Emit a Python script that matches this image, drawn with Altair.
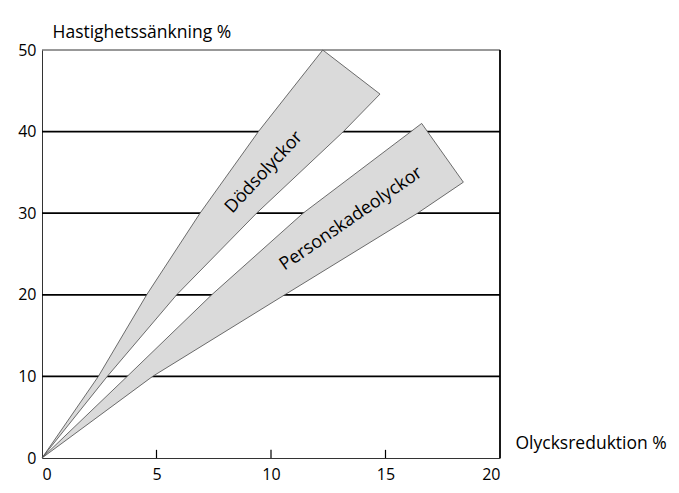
import altair as alt
import pandas as pd

# Axis values
x_ticks = [0, 5, 10, 15, 20]
y_ticks = [0, 10, 20, 30, 40, 50]
grid_y = [10, 20, 30, 40]
top_y = [50]
border_x = [20]
inner_ticks = [5, 10, 15]

# Dödsolyckor wedge (left and right edge, per y level)
dods_y = [0, 10, 20, 30, 40, 44.6, 50]
dods_left = [0, 2.46, 4.57, 6.90, 9.45, 10.74, 12.26]
dods_right = [0, 2.85, 5.88, 9.37, 13.16, 14.76, 12.26]

# Personskadeolyckor wedge
pers_y = [0, 10, 20, 30, 33.8, 41.0]
pers_left = [0, 3.72, 7.41, 11.4, 13.19, 16.58]
pers_right = [0, 4.83, 10.6, 16.4, 18.4, 16.58]

# Labels
label_text = ["Dödsolyckor", "Personskadeolyckor"]
label_x = [9.7, 13.5]
label_y = [35.0, 29.3]
label_angle = [313, 325.5]

FONT = "Open Sans"
xs = alt.Scale(domain=[0, 20], nice=False, zero=True)
ys = alt.Scale(domain=[0, 50], nice=False, zero=True)

x_axis = alt.Axis(values=x_ticks, ticks=False, grid=False, labelPadding=8,
                  labelFontSize=16, labelFont=FONT, labelColor="black",
                  domainColor="#333", domainWidth=1,
                  title="Olycksreduktion %", titleFont=FONT, titleFontSize=17.5,
                  titleFontWeight="normal", titleColor="black", titleAngle=0,
                  titleAlign="left", titleBaseline="alphabetic",
                  titleX=473, titleY=-10)
y_axis = alt.Axis(values=y_ticks, ticks=False, grid=False, labelPadding=6,
                  labelFontSize=16, labelFont=FONT, labelColor="black",
                  domainColor="#333", domainWidth=1,
                  title="Hastighetssänkning %", titleFont=FONT, titleFontSize=17.5,
                  titleFontWeight="normal", titleColor="black", titleAngle=0,
                  titleAlign="left", titleBaseline="alphabetic",
                  titleX=10, titleY=-13)

def X(f):
    return alt.X(f, type="quantitative", scale=xs, axis=x_axis)

def Y(f):
    return alt.Y(f, type="quantitative", scale=ys, axis=y_axis)

grid = alt.Chart(pd.DataFrame({"y": grid_y})).mark_rule(
    color="black", strokeWidth=1.8).encode(y=Y("y"))
top = alt.Chart(pd.DataFrame({"y": top_y})).mark_rule(
    color="#333", strokeWidth=1).encode(y=Y("y"))
border = alt.Chart(pd.DataFrame({"x": border_x})).mark_rule(
    color="black", strokeWidth=1.8).encode(x=X("x"))

dods = alt.Chart(pd.DataFrame({"y": dods_y, "xl": dods_left, "xr": dods_right})).mark_area(
    orient="horizontal", fill="#dadada", stroke="#4a4a4a", strokeWidth=0.8
).encode(y=Y("y"), x=X("xl"), x2="xr")

pers = alt.Chart(pd.DataFrame({"y": pers_y, "xl": pers_left, "xr": pers_right})).mark_area(
    orient="horizontal", fill="#dadada", stroke="#4a4a4a", strokeWidth=0.8
).encode(y=Y("y"), x=X("xl"), x2="xr")

ticks = alt.Chart(pd.DataFrame({"x": inner_ticks})).mark_rule(
    color="black", strokeWidth=1.2).encode(x=X("x"), y=alt.datum(0), y2=alt.datum(1.0))

texts = []
for t, lx, ly, a in zip(label_text, label_x, label_y, label_angle):
    texts.append(
        alt.Chart(pd.DataFrame({"t": [t], "x": [lx], "y": [ly]})).mark_text(
            font=FONT, fontSize=18, color="black", angle=a,
            align="center", baseline="middle"
        ).encode(x=X("x"), y=Y("y"), text="t:N")
    )

chart = alt.layer(grid, top, border, dods, pers, ticks, *texts).properties(
    width=458, height=408,
    autosize=alt.AutoSizeParams(type="none"),
    padding={"left": 34, "top": 42, "right": 170, "bottom": 27},
    background="white",
).configure_view(stroke=None)

chart.save("out.html", embed_options={"renderer": "svg", "actions": False})
